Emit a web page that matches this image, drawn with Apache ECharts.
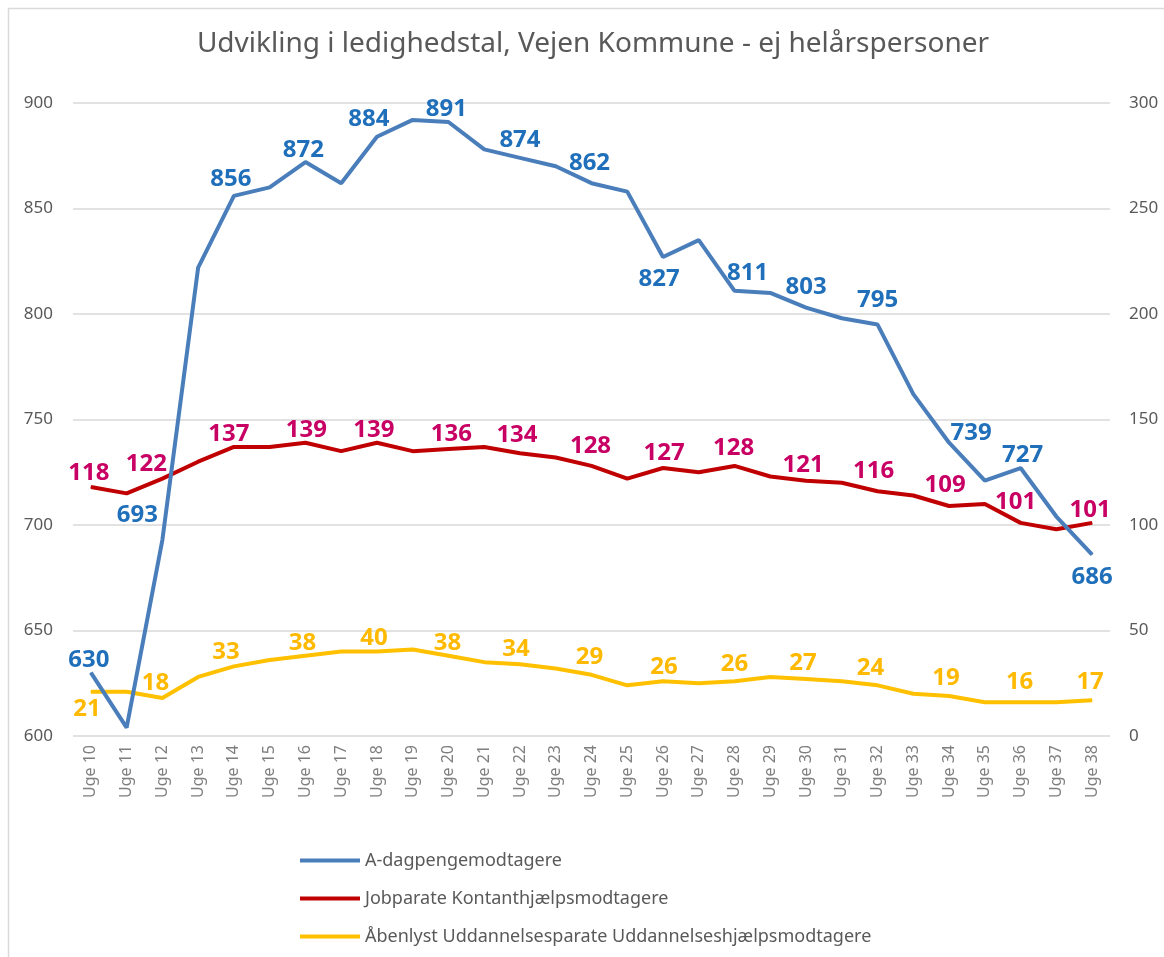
<!DOCTYPE html>
<html>
<head>
<meta charset="utf-8">
<script src="https://cdn.jsdelivr.net/npm/echarts@6/dist/echarts.min.js"></script>
<style>
  html, body { margin:0; padding:0; background:#fff; }
  #chart { width:1164px; height:957px; }
</style>
</head>
<body>
<div id="chart"></div>
<script>
const weeks = ['Uge 10','Uge 11','Uge 12','Uge 13','Uge 14','Uge 15','Uge 16','Uge 17','Uge 18','Uge 19',
  'Uge 20','Uge 21','Uge 22','Uge 23','Uge 24','Uge 25','Uge 26','Uge 27','Uge 28','Uge 29',
  'Uge 30','Uge 31','Uge 32','Uge 33','Uge 34','Uge 35','Uge 36','Uge 37','Uge 38'];
const aDagpenge = [630,604,693,822,856,860,872,862,884,892,891,878,874,870,862,858,827,835,811,810,803,798,795,762,739,721,727,704,686];
const kontant = [118,115,122,130,137,137,139,135,139,135,136,137,134,132,128,122,127,125,128,123,121,120,116,114,109,110,101,98,101];
const uddannelse = [21,21,18,28,33,36,38,40,40,41,38,35,34,32,29,24,26,25,26,28,27,26,24,20,19,16,16,16,17];
const leftTicks = [600, 900, 50];
const rightTicks = [0, 300, 50];

// label offsets (dx, dy) for the labelled weeks (every second week)
const blueOff = [[-2,-13],[-25,-25],[-3,-17],[-2,-12],[-8,-18],[-2,-13],[0,-18],[-2,-20],[-4,22],[13,-18],[0,-21],[0,-24],[22,-10],[2,-13],[0,23]];
const redOff = [[-2,-14],[-16,-14],[-5,-13],[1,-13],[-3,-13],[3,-15],[-3,-18],[-1,-20],[1,-15],[-1,-18],[-3,-16],[-4,-20],[-4,-21],[-5,-21],[-2,-13]];
const yellowOff = [[-4,17],[-7,-15],[-8,-14],[-3,-13],[-3,-13],[-1,-13],[-4,-15],[-2,-18],[1,-14],[0,-17],[-3,-16],[-7,-17],[-3,-18],[-1,-20],[-2,-18]];

const FONT = '"Noto Sans", "Open Sans", sans-serif';

function buildData(values, offsets, labelColor) {
  return values.map((v, i) => {
    if (i % 2 !== 0) return { value: v, label: { show: false } };
    let off = offsets[i / 2];
    return {
      value: v,
      label: {
        show: true,
        position: 'inside',
        offset: off,
        color: labelColor,
        fontSize: 24,
        fontWeight: 'bold',
        fontFamily: FONT
      }
    };
  });
}

function lineSeries(name, values, axis, lineColor, offsets, labelColor) {
  return {
    type: 'line',
    name: name,
    yAxisIndex: axis,
    data: buildData(values, offsets, labelColor),
    symbol: 'circle',
    symbolSize: 1,
    showSymbol: true,
    itemStyle: { color: lineColor },
    lineStyle: { color: lineColor, width: 4 },
    z: axis === 0 ? 3 : 2,
    animation: false
  };
}

const myChart = echarts.init(document.getElementById('chart'));
const option = {
  backgroundColor: '#fff',
  animation: false,
  title: {
    text: 'Udvikling i ledighedstal, Vejen Kommune - ej helårspersoner',
    left: 588,
    top: 25,
    textAlign: 'center',
    textStyle: { fontFamily: FONT, fontSize: 28, fontWeight: 'normal', color: '#595959' }
  },
  graphic: [{
    type: 'rect',
    shape: { x: 8.5, y: 8.5, width: 1170, height: 960 },
    style: { fill: 'none', stroke: '#d9d9d9', lineWidth: 1.5 },
    silent: true
  }],
  legend: {
    orient: 'vertical',
    left: 295,
    top: 845,
    icon: 'rect',
    itemWidth: 60,
    itemHeight: 4,
    itemGap: 17,
    textStyle: { fontFamily: FONT, fontSize: 18, color: '#595959', lineHeight: 21 },
    data: ['A-dagpengemodtagere', 'Jobparate Kontanthjælpsmodtagere', 'Åbenlyst Uddannelsesparate Uddannelseshjælpsmodtagere']
  },
  grid: { left: 73, right: 54, top: 103, bottom: 221 },
  xAxis: {
    type: 'category',
    data: weeks,
    boundaryGap: true,
    axisLine: { show: false },
    axisTick: { show: false },
    axisLabel: { rotate: 90, margin: 9, color: '#7f7f7f', fontSize: 16, fontFamily: FONT }
  },
  yAxis: [{
    type: 'value',
    min: leftTicks[0],
    max: leftTicks[1],
    interval: leftTicks[2],
    axisLine: { show: false },
    axisTick: { show: false },
    axisLabel: { color: '#595959', fontSize: 17, fontFamily: FONT, margin: 20 },
    splitLine: { lineStyle: { color: '#d9d9d9', width: 1.5 } }
  }, {
    type: 'value',
    position: 'right',
    min: rightTicks[0],
    max: rightTicks[1],
    interval: rightTicks[2],
    axisLine: { show: false },
    axisTick: { show: false },
    axisLabel: { color: '#595959', fontSize: 17, fontFamily: FONT, margin: 19 },
    splitLine: { show: false }
  }],
  series: [
    lineSeries('A-dagpengemodtagere', aDagpenge, 0, '#4a7ebb', blueOff, '#1f6fba'),
    lineSeries('Jobparate Kontanthjælpsmodtagere', kontant, 1, '#c00000', redOff, '#c80064'),
    lineSeries('Åbenlyst Uddannelsesparate Uddannelseshjælpsmodtagere', uddannelse, 1, '#ffc000', yellowOff, '#ffb900')
  ]
};
myChart.setOption(option);
</script>
</body>
</html>
